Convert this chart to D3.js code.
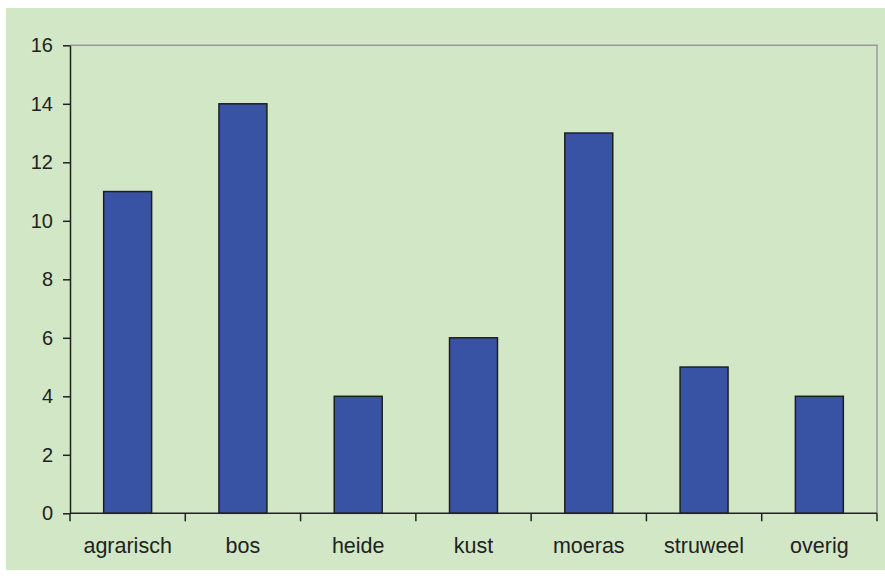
<!DOCTYPE html>
<html>
<head>
<meta charset="utf-8">
<script src="https://cdn.jsdelivr.net/npm/d3@7"></script>
<style>
  html, body { margin: 0; padding: 0; background: #ffffff; }
  svg { display: block; }
  text { font-family: "Liberation Sans", Arial, sans-serif; fill: #222; }
</style>
</head>
<body>
<svg id="chart" width="885" height="579"></svg>
<script>
// Counts per habitat type
const categories = ["agrarisch", "bos", "heide", "kust", "moeras", "struweel", "overig"];
const values = [11, 14, 4, 6, 13, 5, 4];
const yTicks = [0, 2, 4, 6, 8, 10, 12, 14, 16];

const svg = d3.select("#chart");
const W = 885, H = 579;
const plot = { left: 70, right: 877, top: 45.3, bottom: 513.3 };

// Panel background
svg.append("rect")
  .attr("x", 6).attr("y", 8)
  .attr("width", W - 6).attr("height", 562)
  .attr("fill", "#d1e7c6");

const x = d3.scaleBand()
  .domain(categories)
  .range([plot.left, plot.right])
  .paddingInner(0.584)
  .paddingOuter(0.292);

const xTicks = d3.scalePoint()
  .domain(d3.range(categories.length + 1))
  .range([plot.left, plot.right]);

const y = d3.scaleLinear()
  .domain([0, 16])
  .range([plot.bottom, plot.top]);

// Plot-area frame (top and right edges)
svg.append("path")
  .attr("d", `M${plot.left},${y(16)}H${plot.right}V${plot.bottom}`)
  .attr("fill", "none")
  .attr("stroke", "#9a9a9a")
  .attr("stroke-width", 1.5);

// Bars
svg.append("g")
  .selectAll("rect")
  .data(values)
  .join("rect")
  .attr("x", (d, i) => x(categories[i]))
  .attr("y", d => y(d))
  .attr("width", x.bandwidth())
  .attr("height", d => y(0) - y(d))
  .attr("fill", "#3853a3")
  .attr("stroke", "#1e1e1e")
  .attr("stroke-width", 1.5);

// Y axis
const yAxis = svg.append("g")
  .attr("transform", `translate(${plot.left},0)`)
  .call(d3.axisLeft(y).tickValues(yTicks).tickSize(7).tickPadding(10).tickSizeOuter(0));
yAxis.select(".domain").attr("stroke", "#222").attr("stroke-width", 1.5);
yAxis.selectAll(".tick line").attr("stroke", "#222").attr("stroke-width", 1.5);
yAxis.selectAll(".tick text")
  .attr("font-size", 20)
  .attr("font-family", "Liberation Sans, Arial, sans-serif")
  .attr("fill", "#222");

// X axis: baseline with ticks between categories
const xAxis = svg.append("g")
  .attr("transform", `translate(0,${plot.bottom})`);
xAxis.append("line")
  .attr("x1", plot.left).attr("x2", plot.right)
  .attr("stroke", "#222").attr("stroke-width", 1.5);
xAxis.selectAll("line.tick")
  .data(xTicks.domain())
  .join("line")
  .attr("class", "tick")
  .attr("x1", d => xTicks(d)).attr("x2", d => xTicks(d))
  .attr("y1", 0).attr("y2", 8)
  .attr("stroke", "#222").attr("stroke-width", 1.5);
xAxis.selectAll("text")
  .data(categories)
  .join("text")
  .attr("x", d => x(d) + x.bandwidth() / 2)
  .attr("y", 40)
  .attr("text-anchor", "middle")
  .attr("font-size", 21.5)
  .text(d => d);
</script>
</body>
</html>
